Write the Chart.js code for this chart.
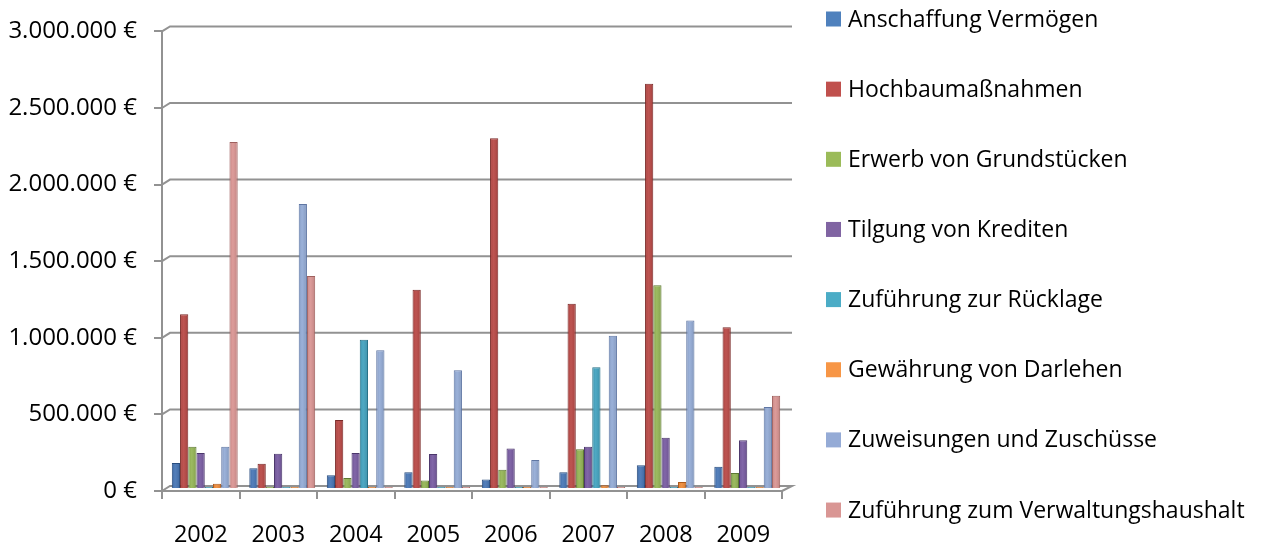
<!DOCTYPE html>
<html>
<head>
<meta charset="utf-8">
<script src="https://cdn.jsdelivr.net/npm/chart.js@4.4.1/dist/chart.umd.min.js"></script>
<style>
html,body{margin:0;padding:0;background:#fff;}
#wrap{width:1262px;height:544px;position:relative;}
</style>
</head>
<body>
<div id="wrap"><canvas id="c" width="1262" height="544"></canvas></div>
<script>
const categories = ['2002','2003','2004','2005','2006','2007','2008','2009'];

const seriesNames = [
  'Anschaffung Vermögen',
  'Hochbaumaßnahmen',
  'Erwerb von Grundstücken',
  'Tilgung von Krediten',
  'Zuführung zur Rücklage',
  'Gewährung von Darlehen',
  'Zuweisungen und Zuschüsse',
  'Zuführung zum Verwaltungshaushalt'
];

const anschaffungVermoegen   = [170000, 135000,  90000, 110000,   62000, 110000,  155000,  145000];
const hochbaumassnahmen      = [1140000, 165000, 450000, 1300000, 2290000, 1210000, 2645000, 1055000];
const erwerbGrundstuecke     = [275000,   3000,  72000,  55000,  125000, 260000, 1330000,  105000];
const tilgungKredite         = [235000, 230000, 235000, 228000,  265000, 275000,  335000,  318000];
const zufuehrungRuecklage    = [  4000,   4000, 975000,   4000,    4000, 795000,    4000,    4000];
const gewaehrungDarlehen     = [ 35000,   4000,   8000,   8000,    6000,  25000,   45000,    8000];
const zuweisungenZuschuesse  = [275000, 1860000, 905000, 775000,  190000, 1000000, 1100000,  535000];
const zufuehrungVerwaltung   = [2265000, 1390000,  4000,   4000,    4000,   4000,    4000,  608000];

const yTickValues = [0, 500000, 1000000, 1500000, 2000000, 2500000, 3000000];

const seriesValues = [anschaffungVermoegen, hochbaumassnahmen, erwerbGrundstuecke, tilgungKredite,
  zufuehrungRuecklage, gewaehrungDarlehen, zuweisungenZuschuesse, zufuehrungVerwaltung];

const fills   = ['#4574B4','#B84643','#93B453','#7659A0','#40A1BE','#EE8A38','#92AAD5','#D99391'];
const borders = ['#284C7E','#7A2A28','#5C7833','#4B366B','#257087','#AD5A1C','#5F76A3','#9E605E'];
const legendFills = ['#4F81BD','#C0504D','#9BBB59','#8064A2','#4BACC6','#F79646','#95ABD6','#D99694'];

function euro(v){
  return String(Math.round(v)).replace(/\B(?=(\d{3})+(?!\d))/g, '.') + ' €';
}

const FONT = "'Open Sans', sans-serif";
const GRID = '#929292';

const wallPlugin = {
  id: 'wall',
  beforeDatasetsDraw(chart){
    const {ctx, chartArea:a, scales:{y}} = chart;
    const dxL = 8, dxR = 10, dy = -5;
    ctx.save();
    ctx.strokeStyle = GRID;
    ctx.lineWidth = 2;
    y.ticks.forEach(t => {
      const py = y.getPixelForValue(t.value);
      ctx.beginPath();
      ctx.moveTo(a.left, py);
      ctx.lineTo(a.left + dxL, py + dy);
      ctx.lineTo(a.right + dxR, py + dy);
      if (t.value === 0) ctx.lineTo(a.right, py);
      ctx.stroke();
    });
    ctx.restore();
    ctx.save();
    ctx.translate(4, -2);
  },
  afterDatasetsDraw(chart){
    const {ctx} = chart;
    chart.data.datasets.forEach((ds, di) => {
      const meta = chart.getDatasetMeta(di);
      meta.data.forEach(el => {
        const w = el.width, x0 = el.x - w/2, top = Math.min(el.y, el.base), h = Math.abs(el.base - el.y);
        if (h < 1.5) return;
        const g = ctx.createLinearGradient(x0, 0, x0 + w, 0);
        g.addColorStop(0, 'rgba(0,0,0,0.08)');
        g.addColorStop(0.4, 'rgba(255,255,255,0.08)');
        g.addColorStop(1, 'rgba(0,0,0,0.12)');
        ctx.fillStyle = g;
        ctx.fillRect(x0 + 1, top + 1, w - 2, h - 1);
      });
    });
    ctx.restore();
  }
};

const legendPlugin = {
  id: 'sideLegend',
  afterDraw(chart){
    const {ctx} = chart;
    const x = 826, top = 19, step = 70.15, box = 15;
    ctx.save();
    ctx.font = "23px " + FONT;
    ctx.textBaseline = 'middle';
    seriesNames.forEach((n, i) => {
      const cy = top + i * step;
      ctx.fillStyle = legendFills[i];
      ctx.fillRect(x, cy - box/2, box, box);
      ctx.fillStyle = '#000';
      ctx.fillText(n, x + 22, cy + 1);
    });
    ctx.restore();
  }
};

new Chart(document.getElementById('c'), {
  type: 'bar',
  data: {
    labels: categories,
    datasets: seriesNames.map((n, i) => ({
      label: n,
      data: seriesValues[i],
      backgroundColor: fills[i],
      borderColor: borders[i],
      borderWidth: 1,
      minBarLength: 2,
      categoryPercentage: 0.85,
      barPercentage: 1.0
    }))
  },
  options: {
    responsive: false,
    animation: false,
    layout: { padding: { top: 25, right: 480, left: 0, bottom: 0 } },
    plugins: { legend: { display: false }, tooltip: { enabled: false } },
    scales: {
      x: {
        grid: { display: true, drawOnChartArea: false, offset: true, color: GRID, lineWidth: 2, tickLength: 8 },
        border: { display: true, color: GRID, width: 2 },
        ticks: { color: '#000', font: { family: FONT, size: 23.5 }, padding: 22 },
        afterFit(s){ s.height = 53; }
      },
      y: {
        min: 0, max: 3000000,
        afterBuildTicks(s){ s.ticks = yTickValues.map(v => ({ value: v })); },
        grid: { display: true, drawOnChartArea: false, color: GRID, lineWidth: 2, tickLength: 8 },
        border: { display: true, color: GRID, width: 2 },
        ticks: { color: '#000', font: { family: FONT, size: 24 }, padding: 17, callback: v => euro(v) },
        afterFit(s){ s.width = 162; }
      }
    }
  },
  plugins: [wallPlugin, legendPlugin]
});
</script>
</body>
</html>
